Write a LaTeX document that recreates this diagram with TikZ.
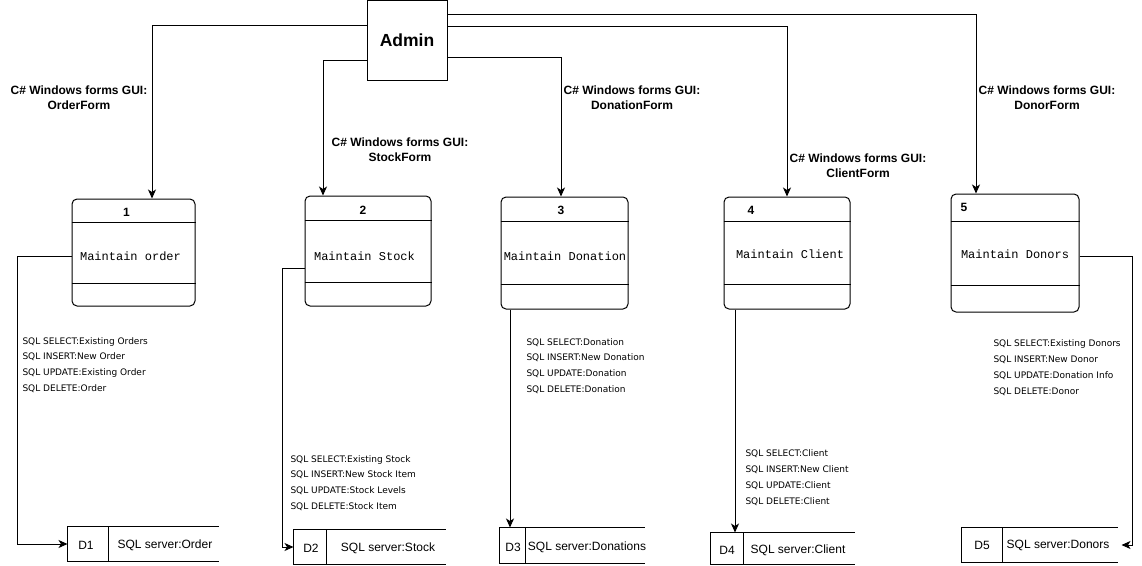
\documentclass[tikz,border=0pt]{standalone}
\usepackage{fontspec}
\setmainfont{Liberation Sans}
\setmonofont{Liberation Mono}
\newfontfamily\sqlfont{DejaVu Sans}
\usetikzlibrary{arrows.meta}
\begin{document}
\begin{tikzpicture}[x=1pt,y=-1pt,line width=1pt,
  arr/.style={-{Stealth[length=9pt,width=8pt,inset=2.5pt]}},
  proc/.style={draw,rounded corners=5pt,inner sep=0pt},
  num/.style={font=\bfseries\fontsize{12}{14}\selectfont,inner sep=0pt},
  ttl/.style={font=\ttfamily\fontsize{12}{14}\selectfont,inner sep=0pt},
  flab/.style={font=\bfseries\fontsize{12}{15}\selectfont,align=center,inner sep=0pt},
  sql/.style={font=\sqlfont\fontsize{9}{15.8}\selectfont,align=left,inner sep=0pt,anchor=west},
  store/.style={inner sep=0pt},
  dtxt/.style={font=\fontsize{12}{14}\selectfont,inner sep=0pt}]
\useasboundingbox (0,0) rectangle (1142,565);
\fill[white] (0,0) rectangle (1142,565);

% Admin
\node[draw,minimum width=80pt,minimum height=80pt,inner sep=0pt,
      font=\bfseries\fontsize{17.5}{20}\selectfont] (admin) at (407,40.5) {Admin};

% processes
\node[proc,minimum width=123pt,minimum height=107pt] (p1) at (133.5,252.5) {};
\node[proc,minimum width=126pt,minimum height=110pt] (p2) at (368,251) {};
\node[proc,minimum width=127pt,minimum height=112pt] (p3) at (564.5,253) {};
\node[proc,minimum width=126pt,minimum height=112pt] (p4) at (787,253) {};
\node[proc,minimum width=128pt,minimum height=118pt] (p5) at (1015,253) {};

\draw (p1.west |- 0,222) -- (p1.east |- 0,222);
\draw (p1.west |- 0,283) -- (p1.east |- 0,283);
\draw (p2.west |- 0,220) -- (p2.east |- 0,220);
\draw (p2.west |- 0,282) -- (p2.east |- 0,282);
\draw (p3.west |- 0,221) -- (p3.east |- 0,221);
\draw (p3.west |- 0,284) -- (p3.east |- 0,284);
\draw (p4.west |- 0,221) -- (p4.east |- 0,221);
\draw (p4.west |- 0,284) -- (p4.east |- 0,284);
\draw (p5.west |- 0,221) -- (p5.east |- 0,221);
\draw (p5.west |- 0,285) -- (p5.east |- 0,285);

\node[num] (n1) at (126.5,212) {1};
\node[num] (n2) at (363,210) {2};
\node[num] (n3) at (561,210) {3};
\node[num] (n4) at (751,210) {4};
\node[num] (n5) at (964,207) {5};

\node[ttl] (t1) at (130.5,256) {Maintain order};
\node[ttl] (t2) at (364.5,256) {Maintain Stock};
\node[ttl] (t3) at (565,256) {Maintain Donation};
\node[ttl] (t4) at (790,254) {Maintain Client};
\node[ttl] (t5) at (1015,254) {Maintain Donors};

% form labels
\node[flab] (f1) at (79,97.5) {C\# Windows forms GUI:\\OrderForm};
\node[flab] (f2) at (400,149.5) {C\# Windows forms GUI:\\StockForm};
\node[flab] (f3) at (632,97.5) {C\# Windows forms GUI:\\DonationForm};
\node[flab] (f4) at (858,165.5) {C\# Windows forms GUI:\\ClientForm};
\node[flab] (f5) at (1047,97.5) {C\# Windows forms GUI:\\DonorForm};

% connectors from admin
\draw[arr] (admin.west |- 0,25) -| (p1.north -| 152,0);
\draw[arr] (admin.west |- 0,60) -| (p2.north -| 323,0);
\draw[arr] (admin.east |- 0,57) -| (p3.north -| 561,0);
\draw[arr] (admin.east |- 0,26) -| (p4.north -| 787,0);
\draw[arr] (admin.east |- 0,14) -| (p5.north -| 976,0);

% data stores
\node[store,minimum width=150pt,minimum height=34pt] (d1) at (143,544) {};
\node[store,minimum width=151pt,minimum height=34pt] (d2) at (369.5,547) {};
\node[store,minimum width=144pt,minimum height=35pt] (d3) at (572,545.5) {};
\node[store,minimum width=143pt,minimum height=31pt] (d4) at (782.5,548.5) {};
\node[store,minimum width=155pt,minimum height=34pt] (d5) at (1039.5,545) {};

\foreach \d/\x in {d1/108,d2/326,d3/525,d4/743,d5/1002}{
  \draw (\d.north east) -- (\d.north west) -- (\d.south west) -- (\d.south east);
  \draw (\d.north -| \x,0) -- (\d.south -| \x,0);
}

\node[dtxt] (d1a) at (86,545) {D1};
\node[dtxt] (d1b) at (165,545) {SQL server:Order};
\node[dtxt] (d2a) at (311,548) {D2};
\node[dtxt] (d2b) at (388,548) {SQL server:Stock};
\node[dtxt] (d3a) at (513,547) {D3};
\node[dtxt] (d3b) at (587,547) {SQL server:Donations};
\node[dtxt] (d4a) at (727,550) {D4};
\node[dtxt] (d4b) at (798,550) {SQL server:Client};
\node[dtxt] (d5a) at (982,545) {D5};
\node[dtxt] (d5b) at (1058,545) {SQL server:Donors};

% SQL labels
\node[sql] (s1) at (22,365) {SQL SELECT:Existing Orders\\SQL INSERT:New Order\\SQL UPDATE:Existing Order\\SQL DELETE:Order};
\node[sql] (s2) at (290,483) {SQL SELECT:Existing Stock\\SQL INSERT:New Stock Item\\SQL UPDATE:Stock Levels\\SQL DELETE:Stock Item};
\node[sql] (s3) at (526,366) {SQL SELECT:Donation\\SQL INSERT:New Donation\\SQL UPDATE:Donation\\SQL DELETE:Donation};
\node[sql] (s4) at (745,477.5) {SQL SELECT:Client\\SQL INSERT:New Client\\SQL UPDATE:Client\\SQL DELETE:Client};
\node[sql] (s5) at (993,367.5) {SQL SELECT:Existing Donors\\SQL INSERT:New Donor\\SQL UPDATE:Donation Info\\SQL DELETE:Donor};

% connectors to stores
\draw[arr] (p1.west |- 0,256) -- ++(-54,0) |- (d1.west);
\draw[arr] (p2.west |- 0,268) -- ++(-22,0) |- (d2.west);
\draw[arr] (p3.south -| 510,0) -- (d3.north -| 510,0);
\draw[arr] (p4.south -| 735,0) -- (d4.north -| 735,0);
\draw[arr,shorten >=4pt] (p5.east |- 0,256) -- ++(53,0) |- (d5.east);
\end{tikzpicture}
\end{document}
